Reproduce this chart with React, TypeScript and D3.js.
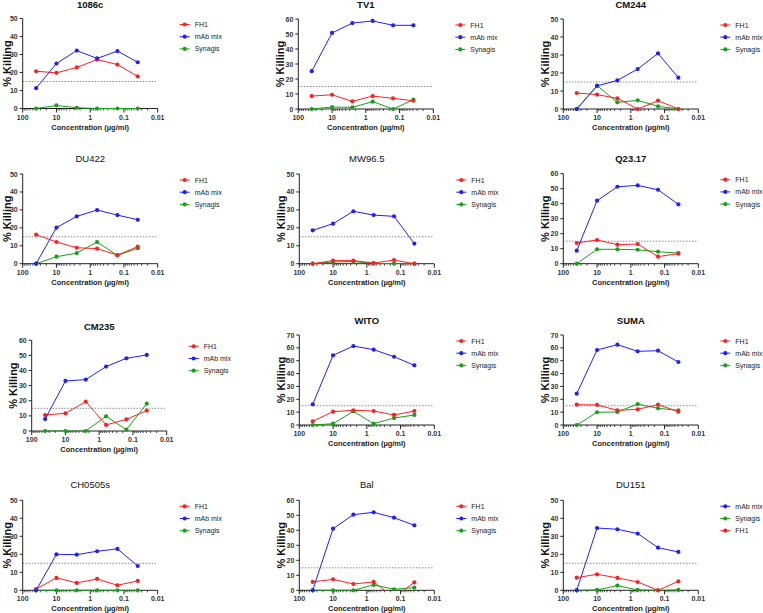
import React from "react";
import * as d3 from "d3";

// ---------- data ----------
const concentrations = [40, 10, 2.5, 0.625, 0.156, 0.039];
const xTickValues = [100, 10, 1, 0.1, 0.01];
const xTickLabels = ["100", "10", "1", "0.1", "0.01"];
const cutoff = 15;

const panelNames = ["1086c", "TV1", "CM244", "DU422", "MW96.5", "Q23.17", "CM235", "WITO", "SUMA", "CH0505s", "Bal", "DU151"];
const yMaxes = [50, 60, 50, 50, 50, 60, 60, 70, 70, 50, 60, 50];

const fh1Values = [
  [20.7, 19.8, 22.8, 27.2, 24.4, 17.8],
  [8.6, 9.5, 5.1, 8.6, 7.1, 5.5],
  [8.9, 8.0, 5.9, 0, 4.6, 0],
  [16.2, 12.1, 8.9, 8.4, 4.8, 9.5],
  [0, 1.7, 1.7, 0.4, 2.0, 0],
  [13.8, 15.8, 12.7, 13.1, 4.7, 6.7],
  [10.6, 11.7, 19.4, 4.0, 7.7, 13.5],
  [2.9, 10.4, 11.4, 10.9, 7.8, 10.9],
  [15.8, 15.6, 11.4, 12.2, 15.8, 10.4],
  [0.7, 6.9, 4.1, 6.3, 2.8, 5.2],
  [5.6, 7.3, 4.2, 5.6, -5.0, 5.3],
  [7.0, 8.9, 6.9, 4.6, 0, 5.0],
];
const mabValues = [
  [11.3, 25.0, 32.2, 27.8, 31.9, 25.7],
  [25.2, 50.7, 57.3, 58.7, 55.8, 55.8],
  [0, 12.8, 15.9, 22.2, 30.9, 17.4],
  [0, 20.1, 26.4, 29.9, 27.1, 24.5],
  [18.6, 22.3, 29.2, 27.1, 26.4, 11.2],
  [8.7, 42.0, 51.3, 52.2, 49.3, 39.6],
  [7.9, 33.1, 34.0, 42.6, 48.1, 50.3],
  [16.1, 54.2, 61.4, 58.6, 53.1, 46.4],
  [24.4, 58.3, 62.5, 57.3, 57.8, 49.0],
  [0, 20.0, 19.8, 21.7, 23.0, 13.5],
  [0, 41.1, 50.4, 52.0, 48.4, 43.3],
  [0, 34.6, 33.9, 31.5, 23.7, 21.3],
];
const synagisValues = [
  [0, 1.7, 0.4, 0, 0, 0],
  [0, 1.3, 1.1, 4.9, 0, 6.2],
  [0, 13.0, 3.7, 4.8, 1.5, 0],
  [0, 3.9, 5.9, 12.1, 4.6, 8.6],
  [0, 1.0, 1.2, 0.2, 0, 0],
  [0, 9.6, 9.6, 9.3, 8.0, 7.1],
  [0, 0, 0, 9.7, 0.9, 18.1],
  [0, 1.0, 10.6, 1.0, 5.4, 7.8],
  [0, 9.9, 10.1, 16.3, 13.0, 11.4],
  [0, 0, 0, 0, 0, 0],
  [0, 0, 0, 3.6, 0.7, 1.8],
  [0, 0.2, 2.6, 0.2, 0, 0.2],
];
const legendOrderDefault = ["FH1", "mAb mix", "Synagis"];
const legendOrderDU151 = ["mAb mix", "Synagis", "FH1"];

// ---------- styling / layout ----------
const colors: Record<string, string> = { FH1: "#ff1f1f", "mAb mix": "#1f1fff", Synagis: "#13a313" };
const FONT = "'Liberation Sans', Arial, Helvetica, sans-serif";
const AXIS_W = 135;

const layouts = [
  { ax: 22.7, top: 18.5, bot: 108.5, tY: 4.5, bold: true },
  { ax: 298.3, top: 19, bot: 109, tY: 4.5, bold: true },
  { ax: 563.3, top: 19, bot: 109, tY: 4.5, bold: true },
  { ax: 22.7, top: 174, bot: 263.7, tY: 158.3, bold: false },
  { ax: 299.3, top: 174, bot: 263.7, tY: 158.3, bold: false },
  { ax: 563.3, top: 173.7, bot: 263.7, tY: 158.3, bold: true },
  { ax: 31.7, top: 340.3, bot: 431, tY: 326.7, bold: true },
  { ax: 299.3, top: 335, bot: 425, tY: 320, bold: true },
  { ax: 563.3, top: 335, bot: 425, tY: 320, bold: true },
  { ax: 22.7, top: 500.3, bot: 590.3, tY: 484.7, bold: false },
  { ax: 299.3, top: 500.3, bot: 590.3, tY: 484.7, bold: false },
  { ax: 563.3, top: 500.3, bot: 590.3, tY: 484.7, bold: false },
];

function Panel({ i }: { i: number }) {
  const L = layouts[i];
  const x = d3.scaleLog().domain([100, 0.01]).range([L.ax, L.ax + AXIS_W]);
  const y = d3.scaleLinear().domain([0, yMaxes[i]]).range([L.bot, L.top]);
  const yTicks = d3.range(0, yMaxes[i] + 1, 10);
  const minor: number[] = [];
  for (let e = -2; e < 2; e++) for (let m = 2; m <= 9; m++) minor.push(m * Math.pow(10, e));
  const seriesData: Record<string, number[]> = {
    FH1: fh1Values[i],
    "mAb mix": mabValues[i],
    Synagis: synagisValues[i],
  };
  const drawOrder = ["Synagis", "FH1", "mAb mix"];
  const line = d3
    .line<number>()
    .x((_, j) => x(concentrations[j]))
    .y((d) => y(d));
  const clipId = `clip${i}`;
  const legendOrder = i === 11 ? legendOrderDU151 : legendOrderDefault;
  const lx = L.ax + 157;
  const cx = L.ax + AXIS_W / 2;
  const cy = (L.top + L.bot) / 2;
  const ylx = Math.max(L.ax - 18.5, 7);
  return (
    <g>
      <defs>
        <clipPath id={clipId}>
          <rect x={L.ax - 2} y={L.top - 10} width={AXIS_W + 4} height={L.bot - L.top + 10.5} />
        </clipPath>
      </defs>
      <text x={cx} y={L.tY} textAnchor="middle" dominantBaseline="central" fontFamily={FONT}
        fontSize={9.5} fontWeight={L.bold ? "bold" : "normal"} fill="#111">{panelNames[i]}</text>
      {/* y axis */}
      <line x1={L.ax} x2={L.ax} y1={L.top} y2={L.bot} stroke="#222" strokeWidth={1} />
      {yTicks.map((t) => (
        <g key={t}>
          <line x1={L.ax - 3} x2={L.ax} y1={y(t)} y2={y(t)} stroke="#222" strokeWidth={1} />
          <text x={L.ax - 5} y={y(t)} textAnchor="end" dominantBaseline="central" fontFamily={FONT}
            fontSize={7} fontWeight="bold" fill="#333">{t}</text>
        </g>
      ))}
      <text transform={`translate(${ylx},${cy}) rotate(-90)`} textAnchor="middle" dominantBaseline="central"
        fontFamily={FONT} fontSize={11} fontWeight="bold" fill="#111">% Killing</text>
      {/* x axis */}
      <line x1={L.ax} x2={L.ax + AXIS_W} y1={L.bot} y2={L.bot} stroke="#222" strokeWidth={1} />
      {minor.map((t) => (
        <line key={"m" + t} x1={x(t)} x2={x(t)} y1={L.bot} y2={L.bot + 2} stroke="#222" strokeWidth={0.8} />
      ))}
      {xTickValues.map((t, k) => (
        <g key={t}>
          <line x1={x(t)} x2={x(t)} y1={L.bot} y2={L.bot + 4} stroke="#222" strokeWidth={1} />
          <text x={x(t)} y={L.bot + 8.5} textAnchor="middle" dominantBaseline="central" fontFamily={FONT}
            fontSize={7} fontWeight="bold" fill="#333">{xTickLabels[k]}</text>
        </g>
      ))}
      <text x={cx} y={L.bot + 18.5} textAnchor="middle" dominantBaseline="central" fontFamily={FONT}
        fontSize={7.5} fontWeight="bold" fill="#222">Concentration (µg/ml)</text>
      {/* cutoff */}
      <line x1={L.ax} x2={L.ax + AXIS_W} y1={y(cutoff)} y2={y(cutoff)} stroke="#555" strokeWidth={1}
        strokeDasharray="1,2" />
      {/* series */}
      {drawOrder.map((s) => (
        <g key={s}>
          <path d={line(seriesData[s]) || ""} fill="none" stroke={colors[s]} strokeWidth={1} clipPath={`url(#${clipId})`} />
          {seriesData[s].map((v, j) =>
            v < 0 ? null : (
              <circle key={j} cx={x(concentrations[j])} cy={y(v)} r={2.1} fill={colors[s]} />
            )
          )}
        </g>
      ))}
      {/* legend */}
      {legendOrder.map((s, k) => {
        const ly = L.top + 6 + k * 12.2;
        return (
          <g key={s}>
            <line x1={lx} x2={lx + 10} y1={ly} y2={ly} stroke={colors[s]} strokeWidth={1} />
            <circle cx={lx + 5} cy={ly} r={2.1} fill={colors[s]} />
            <text x={lx + 15} y={ly} dominantBaseline="central" fontFamily={FONT} fontSize={7} fill="#222">{s}</text>
          </g>
        );
      })}
    </g>
  );
}

export default function App() {
  return (
    <svg width={763} height={613} style={{ position: "absolute", left: 0, top: 0, background: "#fff" }}>
      <rect width={763} height={613} fill="#fff" />
      {panelNames.map((_, i) => (
        <Panel key={i} i={i} />
      ))}
    </svg>
  );
}
